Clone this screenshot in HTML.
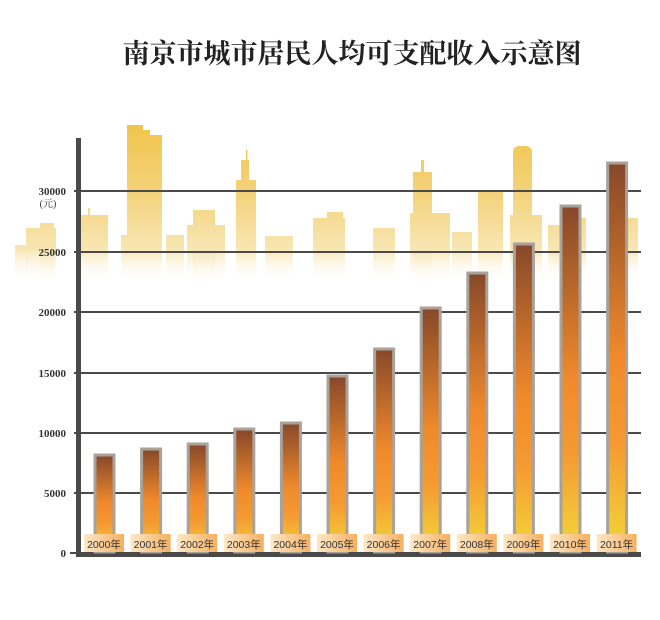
<!DOCTYPE html>
<html><head><meta charset="utf-8"><style>
body{margin:0;background:#fff;}
svg{display:block;}
</style></head><body>
<svg width="660" height="620" viewBox="0 0 660 620" xmlns="http://www.w3.org/2000/svg">
<defs>
<linearGradient id="sky" gradientUnits="userSpaceOnUse" x1="0" y1="120" x2="0" y2="282">
<stop offset="0" stop-color="#f0c44a"/>
<stop offset="0.45" stop-color="#f3d27a"/>
<stop offset="0.8" stop-color="#f8e6b4"/>
<stop offset="1" stop-color="#ffffff" stop-opacity="0"/>
</linearGradient>
<linearGradient id="bar" x1="0" y1="0" x2="0" y2="1">
<stop offset="0" stop-color="#86482a"/>
<stop offset="0.5" stop-color="#f08a2c"/>
<stop offset="0.72" stop-color="#f59a32"/>
<stop offset="1" stop-color="#f2d83a"/>
</linearGradient>
<linearGradient id="lbl" x1="0" y1="0" x2="1" y2="0">
<stop offset="0" stop-color="#fde8c8"/>
<stop offset="1" stop-color="#f6b060"/>
</linearGradient>
</defs>
<text x="352" y="63" text-anchor="middle" font-family="'Liberation Serif','Noto Serif CJK SC',serif" font-size="27" font-weight="bold" fill="#222">南京市城市居民人均可支配收入示意图</text>
<g fill="url(#sky)">
<rect x="15" y="245" width="12" height="40"/>
<rect x="26" y="228" width="30" height="57"/>
<rect x="40" y="223" width="14" height="60"/>
<rect x="80" y="215" width="28" height="70"/>
<rect x="88" y="208" width="2" height="10"/>
<rect x="127" y="125" width="16" height="160"/>
<rect x="143" y="130" width="7" height="155"/>
<rect x="150" y="135" width="12" height="150"/>
<rect x="121" y="235" width="6" height="50"/>
<rect x="166" y="235" width="18" height="50"/>
<rect x="187" y="225" width="38" height="60"/>
<rect x="193" y="210" width="22" height="75"/>
<rect x="236" y="180" width="20" height="105"/>
<rect x="241" y="160" width="8" height="25"/>
<rect x="246" y="150" width="1.5" height="12"/>
<rect x="265" y="236" width="28" height="50"/>
<rect x="313" y="218" width="32" height="68"/>
<rect x="327" y="212" width="16" height="10"/>
<rect x="373" y="228" width="22" height="58"/>
<rect x="410" y="213" width="40" height="72"/>
<rect x="413" y="172" width="19" height="113"/>
<rect x="421" y="160" width="3" height="14"/>
<rect x="452" y="232" width="20" height="55"/>
<rect x="478" y="192" width="25" height="95"/>
<rect x="510" y="215" width="32" height="72"/>
<rect x="513" y="146" width="19" height="140" rx="6"/>
<rect x="548" y="225" width="12" height="60"/>
<rect x="578" y="218" width="8" height="66"/>
<rect x="628" y="218" width="10" height="66"/>
</g>
<g stroke="#4a4a4a" stroke-width="2">
<line x1="74" y1="191" x2="641" y2="191"/>
<line x1="74" y1="252" x2="641" y2="252"/>
<line x1="74" y1="312" x2="641" y2="312"/>
<line x1="74" y1="373" x2="641" y2="373"/>
<line x1="74" y1="433" x2="641" y2="433"/>
<line x1="74" y1="493" x2="641" y2="493"/>
<line x1="70" y1="553" x2="78" y2="553"/>
</g>
<rect x="76" y="138" width="5" height="419" fill="#4a4a4a"/>
<rect x="76" y="552" width="565" height="5" fill="#4a4a4a"/>
<g font-family="'Liberation Serif',serif" font-size="11" font-weight="bold" fill="#333" text-anchor="end">
<text x="66" y="195">30000</text>
<text x="66" y="256">25000</text>
<text x="66" y="316">20000</text>
<text x="66" y="377">15000</text>
<text x="66" y="437">10000</text>
<text x="66" y="497">5000</text>
<text x="66" y="557">0</text>
</g>
<text x="48" y="207" text-anchor="middle" font-family="'Liberation Serif','Noto Serif CJK SC',serif" font-size="10" fill="#333">(元)</text>
<g fill="url(#bar)" stroke="#a8a29a" stroke-width="3">
<rect x="95" y="455" width="19" height="97"/>
<rect x="141.6" y="449" width="19" height="103"/>
<rect x="188.2" y="444" width="19" height="108"/>
<rect x="234.8" y="429" width="19" height="123"/>
<rect x="281.4" y="423" width="19" height="129"/>
<rect x="328" y="376" width="19" height="176"/>
<rect x="374.6" y="349" width="19" height="203"/>
<rect x="421.2" y="308" width="19" height="244"/>
<rect x="467.8" y="273" width="19" height="279"/>
<rect x="514.4" y="244" width="19" height="308"/>
<rect x="561" y="206" width="19" height="346"/>
<rect x="607.6" y="163" width="19" height="389"/>
</g>
<g font-family="'Liberation Sans','Noto Sans CJK SC',sans-serif" font-size="10.5" fill="#333" text-anchor="middle">
<rect x="84" y="534" width="40" height="18" fill="url(#lbl)"/><text x="104" y="548">2000年</text>
<rect x="130.6" y="534" width="40" height="18" fill="url(#lbl)"/><text x="150.6" y="548">2001年</text>
<rect x="177.2" y="534" width="40" height="18" fill="url(#lbl)"/><text x="197.2" y="548">2002年</text>
<rect x="223.8" y="534" width="40" height="18" fill="url(#lbl)"/><text x="243.8" y="548">2003年</text>
<rect x="270.4" y="534" width="40" height="18" fill="url(#lbl)"/><text x="290.4" y="548">2004年</text>
<rect x="317" y="534" width="40" height="18" fill="url(#lbl)"/><text x="337" y="548">2005年</text>
<rect x="363.6" y="534" width="40" height="18" fill="url(#lbl)"/><text x="383.6" y="548">2006年</text>
<rect x="410.2" y="534" width="40" height="18" fill="url(#lbl)"/><text x="430.2" y="548">2007年</text>
<rect x="456.8" y="534" width="40" height="18" fill="url(#lbl)"/><text x="476.8" y="548">2008年</text>
<rect x="503.4" y="534" width="40" height="18" fill="url(#lbl)"/><text x="523.4" y="548">2009年</text>
<rect x="550" y="534" width="40" height="18" fill="url(#lbl)"/><text x="570" y="548">2010年</text>
<rect x="596.6" y="534" width="40" height="18" fill="url(#lbl)"/><text x="616.6" y="548">2011年</text>
</g>
</svg>
</body></html>
